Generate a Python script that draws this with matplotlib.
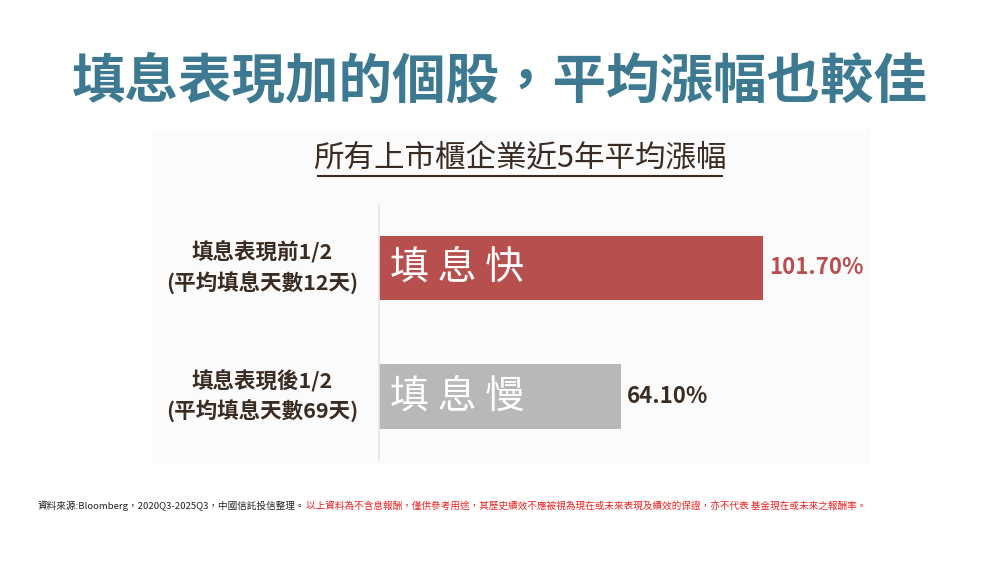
import matplotlib
matplotlib.use("Agg")
import matplotlib.pyplot as plt
from matplotlib.patches import Rectangle
from matplotlib.lines import Line2D

plt.rcParams['font.family'] = ['Noto Sans CJK TC', 'DejaVu Sans']

# data
categories = ['填息表現前1/2\n(平均填息天數12天)', '填息表現後1/2\n(平均填息天數69天)']
bar_names = ['填 息 快', '填 息 慢']
values = [101.70, 64.10]
value_labels = ['101.70%', '64.10%']

bar_colors = ['#b84f4f', '#b8b8b8']
label_colors = ['#b84f4f', '#3a2c22']
text_dark = '#3a2c22'

fig = plt.figure(figsize=(10, 5.63), dpi=100)
fig.patch.set_facecolor('white')

# light panel behind the chart
fig.add_artist(Rectangle((152 / 1000, 1 - 464 / 563), (871 - 152) / 1000, (464 - 129) / 563,
                         transform=fig.transFigure, facecolor='#fbfbfb', edgecolor='none', zorder=0))

# main title
fig.text(0.5, 1 - 82 / 563, '填息表現加的個股，平均漲幅也較佳', ha='center', va='center',
         fontsize=38.5, fontweight='bold', color='#3d7a92')

# subtitle with underline
fig.text(0.52, 1 - 159 / 563, '所有上市櫃企業近5年平均漲幅', ha='center', va='center',
         fontsize=22, fontweight='medium', color=text_dark)
fig.add_artist(Line2D([318 / 1000, 722 / 1000], [1 - 176 / 563, 1 - 176 / 563],
                      transform=fig.transFigure, color=text_dark, linewidth=1.5))

# axes
ax_left, ax_right = 379 / 1000, 870 / 1000
ax_top, ax_bot = 1 - 205 / 563, 1 - 460 / 563
ax = fig.add_axes([ax_left, ax_bot, ax_right - ax_left, ax_top - ax_bot])
ax.set_facecolor('none')
ypos = [0, 1]
ax.barh(ypos, values, height=0.5, color=bar_colors)
ax.set_xlim(0, 491 / 3.78)
ax.set_ylim(1.494, -0.49)
for s in ['top', 'right', 'bottom']:
    ax.spines[s].set_visible(False)
ax.spines['left'].set_color('#e6e6e6')
ax.spines['left'].set_linewidth(1.2)
ax.set_xticks([])
ax.set_yticks([])

for y, v, name, lab, lc, cat in zip(ypos, values, bar_names, value_labels, label_colors, categories):
    ax.text(3.0, y, name, ha='left', va='center', fontsize=28, color='white')
    ax.text(v + 1.6, y, lab, ha='left', va='center', fontsize=16, fontweight='bold', color=lc)
    ax.text(-0.238, y, cat, transform=ax.get_yaxis_transform(), ha='center', va='center',
            fontsize=15.5, fontweight='semibold', color=text_dark, linespacing=1.4)

# footnote: black source part, then red disclaimer right after it
t1 = fig.text(38 / 1000, 1 - 506 / 563, '資料來源:Bloomberg，2020Q3-2025Q3，中國信託投信整理。',
              ha='left', va='center', fontsize=6.9, color='#222222')
fig.add_artist(plt.Annotation(
    '以上資料為不含息報酬，僅供參考用途，其歷史績效不應被視為現在或未來表現及績效的保證，亦不代表 基金現在或未來之報酬率。',
    xy=(1, 0.5), xycoords=t1, ha='left', va='center', fontsize=6.9,
    color='#e8201f', annotation_clip=False))

fig.savefig('out.png', dpi=100, facecolor='white')
